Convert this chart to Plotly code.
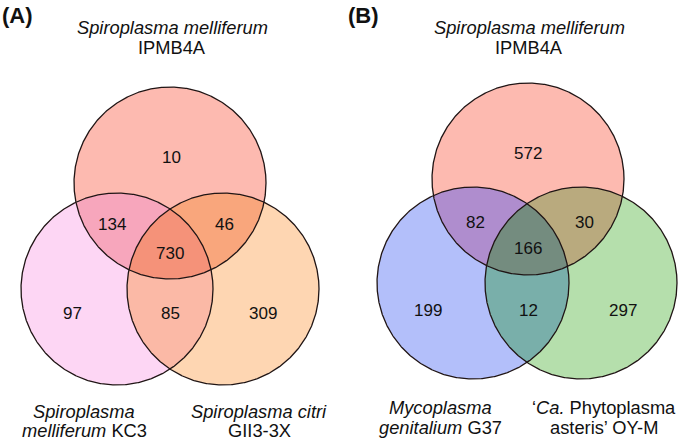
import numpy as np
import plotly.graph_objects as go

# ---------------- data ----------------
# region order: top only, left only, right only, top&left, top&right, left&right, all three
region_keys = ["100", "010", "001", "110", "101", "011", "111"]

a_counts = [10, 97, 309, 134, 46, 85, 730]
b_counts = [572, 199, 297, 82, 30, 12, 166]

a_panel = "(A)"
b_panel = "(B)"

a_top_label = ["<i>Spiroplasma melliferum</i>", "IPMB4A"]
a_left_label = ["<i>Spiroplasma</i>", "<i>melliferum</i> KC3"]
a_right_label = ["<i>Spiroplasma citri</i>", "GII3-3X"]

b_top_label = ["<i>Spiroplasma melliferum</i>", "IPMB4A"]
b_left_label = ["<i>Mycoplasma</i>", "<i>genitalium</i> G37"]
b_right_label = ["\u2018<i>Ca.</i> Phytoplasma", "asteris\u2019 OY-M"]

# region fill colours (opaque, as seen)
a_colors = ["#FDBAB0", "#FDD6F4", "#FED6B2", "#F7A6BC", "#F9A67C", "#FBB9A6", "#F59279"]
b_colors = ["#FDBAB0", "#B3BFFA", "#B5DFAC", "#AF8DCE", "#B9AA7E", "#79AFAA", "#748C7F"]

# ---------------- geometry (pixel space) ----------------
R = 96
a_circles = [(170, 183, R), (117, 289, R), (223, 289, R)]
b_circles = [(528, 179, R), (473, 283, R), (581, 283, R)]

a_num_pos = [(171, 157), (72, 313), (263, 313), (112, 224), (224, 224), (170, 313), (170, 253)]
b_num_pos = [(528, 153), (428, 310), (623, 310), (475, 222), (584, 222), (528, 310), (528, 248)]

FONT = "Liberation Sans, Arial, Helvetica, sans-serif"
LINE = "#201515"


def region_poly(circles, n=1440):
    pts = []
    t = np.linspace(0, 2 * np.pi, n, endpoint=False)
    for i, (cx, cy, r) in enumerate(circles):
        x = cx + r * np.cos(t)
        y = cy + r * np.sin(t)
        mask = np.ones(n, bool)
        for j, (ox, oy, orr) in enumerate(circles):
            if j != i:
                mask &= (x - ox) ** 2 + (y - oy) ** 2 <= orr ** 2 + 1e-6
        pts.append(np.c_[x[mask], y[mask]])
    P = np.vstack(pts)
    c = P.mean(0)
    ang = np.arctan2(P[:, 1] - c[1], P[:, 0] - c[0])
    P = P[np.argsort(ang)]
    P = np.vstack([P, P[:1]])
    return P[:, 0], P[:, 1]


fig = go.Figure()


def add_venn(circles, colors, counts, num_pos):
    # singles (full circles), then pairs, then triple
    order = sorted(range(len(region_keys)), key=lambda k: region_keys[k].count("1"))
    for k in order:
        key = region_keys[k]
        members = [circles[m] for m, ch in enumerate(key) if ch == "1"]
        x, y = region_poly(members)
        fig.add_trace(go.Scatter(x=x, y=y, mode="lines", fill="toself",
                                 fillcolor=colors[k], line=dict(width=0, color=colors[k]),
                                 hoverinfo="skip", showlegend=False))
    t = np.linspace(0, 2 * np.pi, 721)
    for (cx, cy, r) in circles:
        fig.add_trace(go.Scatter(x=cx + r * np.cos(t), y=cy + r * np.sin(t), mode="lines",
                                 line=dict(color=LINE, width=1.3), hoverinfo="skip",
                                 showlegend=False))
    for cnt, (px, py) in zip(counts, num_pos):
        fig.add_annotation(x=px, y=py, text=str(cnt), showarrow=False,
                           font=dict(family=FONT, size=17, color="#111111"),
                           xanchor="center", yanchor="middle")


add_venn(a_circles, a_colors, a_counts, a_num_pos)
add_venn(b_circles, b_colors, b_counts, b_num_pos)


def add_label(lines, x, ys):
    for txt, y in zip(lines, ys):
        fig.add_annotation(x=x, y=y, text=txt, showarrow=False,
                           font=dict(family=FONT, size=18.3, color="#111111"),
                           xanchor="center", yanchor="middle")


add_label(a_top_label, 172, [27, 47])
add_label(a_left_label, 84, [411, 430])
add_label(a_right_label, 259, [411, 430])
add_label(b_top_label, 529, [27, 47])
add_label(b_left_label, 440, [407, 427])
add_label(b_right_label, 604, [407, 427])

for txt, x in [(a_panel, 0), (b_panel, 346)]:
    fig.add_annotation(x=x, y=15, text="<b>%s</b>" % txt, showarrow=False,
                       font=dict(family=FONT, size=22, color="#111111"),
                       xanchor="left", yanchor="middle")

fig.update_layout(
    width=685, height=441,
    margin=dict(l=0, r=0, t=0, b=0),
    paper_bgcolor="white", plot_bgcolor="white",
    showlegend=False, hovermode=False,
    xaxis=dict(range=[0, 685], visible=False, fixedrange=True),
    yaxis=dict(range=[441, 0], visible=False, fixedrange=True),
)

fig.write_html("out.html",
               config={"displayModeBar": False, "staticPlot": True},
               post_script="document.body.style.margin='0';document.body.style.padding='0';"
                           "document.body.style.overflow='hidden';")
